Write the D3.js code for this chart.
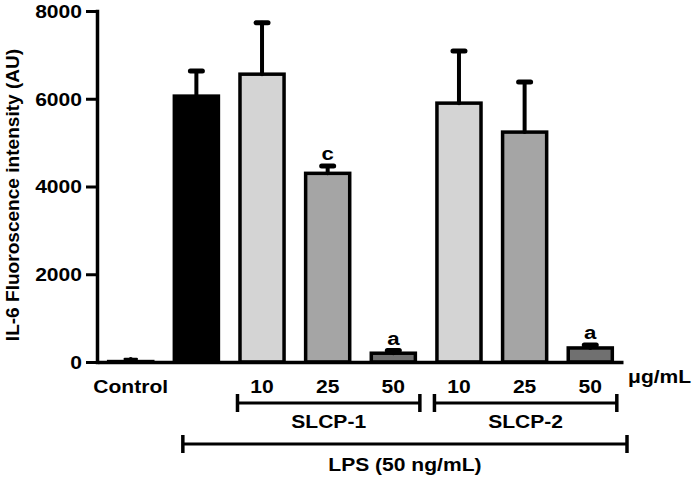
<!DOCTYPE html>
<html>
<head>
<meta charset="utf-8">
<script src="https://cdn.jsdelivr.net/npm/d3@7"></script>
<style>
  body { margin: 0; background: #fff; }
  text { font-family: "Liberation Sans", Arial, sans-serif; font-weight: bold; fill: #000; }
</style>
</head>
<body>
<script>
// chart data
const categories = ["Control", "LPS", "S1-10", "S1-25", "S1-50", "S2-10", "S2-25", "S2-50"];
const xLabels = ["Control", "", "10", "25", "50", "10", "25", "50"];
const means = [10, 6060, 6560, 4300, 200, 5900, 5240, 320];
const errors = [60, 570, 1170, 170, 60, 1190, 1140, 70];
const sigLetters = ["", "", "", "c", "a", "", "", "a"];
const yTicks = [0, 2000, 4000, 6000, 8000];
const groups = [
  { label: "SLCP-1", from: "S1-10", to: "S1-50" },
  { label: "SLCP-2", from: "S2-10", to: "S2-50" }
];
const lpsLabel = "LPS (50 ng/mL)";
const unitLabel = "\u03bcg/mL";
const yTitle = "IL-6 Fluoroscence intensity (AU)";

// style
const fills = ["#ffffff", "#000000", "#d4d4d4", "#a5a5a5", "#707070", "#d4d4d4", "#a5a5a5", "#707070"];
const stretch = 1.17;

const width = 693, height = 480;
const svg = d3.select("body").append("svg")
  .attr("width", width)
  .attr("height", height);

const x = d3.scaleBand()
  .domain(categories)
  .range([98, 623])
  .paddingInner(0.283)
  .paddingOuter(0.14);

const y = d3.scaleLinear().domain([0, 8000]).range([362, 11]);
const color = d3.scaleOrdinal(categories, fills);
const bw = x.bandwidth();

// stretched text helper (original figure font is wider than Arial)
function label(parent, tx, ty, str, size, anchor, rot) {
  return parent.append("text")
    .attr("transform", `translate(${tx},${ty})` + (rot ? ` rotate(${rot})` : "") + ` scale(${stretch},1)`)
    .attr("text-anchor", anchor || "middle")
    .style("font-size", size + "px")
    .text(str);
}

// bars
svg.append("g").selectAll("rect")
  .data(categories)
  .join("rect")
  .attr("x", d => x(d) + 1.5)
  .attr("width", bw - 3)
  .attr("y", (d, i) => y(means[i]))
  .attr("height", (d, i) => y(0) - y(means[i]))
  .attr("fill", d => color(d))
  .attr("stroke", "#000")
  .attr("stroke-width", 3.5);

// upper error bars
const err = svg.append("g").attr("stroke", "#000").attr("stroke-linecap", "round");
categories.forEach((c, i) => {
  const cx = x(c) + bw / 2;
  err.append("line")
    .attr("x1", cx).attr("x2", cx)
    .attr("y1", y(means[i])).attr("y2", y(means[i] + errors[i]))
    .attr("stroke-width", 4);
  err.append("line")
    .attr("x1", cx - 6).attr("x2", cx + 6)
    .attr("y1", y(means[i] + errors[i])).attr("y2", y(means[i] + errors[i]))
    .attr("stroke-width", i === 0 ? 2.5 : 5);
  if (sigLetters[i]) label(svg, cx, y(means[i] + errors[i]) - 6, sigLetters[i], 19);
});

// y axis
const yAxis = svg.append("g")
  .attr("transform", "translate(97,0)")
  .call(d3.axisLeft(y).tickValues(yTicks).tickFormat(d3.format("d")).tickSize(11).tickSizeOuter(0));
yAxis.select(".domain").attr("stroke-width", 3.5).attr("stroke-linecap", "square");
yAxis.selectAll(".tick line").attr("stroke-width", 3);
yAxis.selectAll(".tick text")
  .attr("x", 0).attr("dy", "0.36em")
  .attr("transform", `translate(-15,0) scale(${stretch},1)`)
  .style("font-size", "18px");

// x axis
const xAxis = svg.append("g")
  .attr("transform", "translate(0,362)")
  .call(d3.axisBottom(x).tickSize(0).tickSizeOuter(0).tickFormat((d, i) => xLabels[i]));
xAxis.select(".domain").attr("stroke-width", 3.5);
xAxis.selectAll(".tick text")
  .attr("y", 0).attr("dy", 0)
  .attr("transform", `translate(0,31) scale(${stretch},1)`)
  .style("font-size", "18px");

label(svg, 628, 383, unitLabel, 18, "start");

// group brackets
const br = svg.append("g").attr("stroke", "#000");
function bracket(x1, x2, yy, h) {
  br.append("line").attr("x1", x1).attr("x2", x2).attr("y1", yy).attr("y2", yy).attr("stroke-width", 3);
  [x1, x2].forEach(xx => br.append("line")
    .attr("x1", xx).attr("x2", xx).attr("y1", yy - h).attr("y2", yy + h).attr("stroke-width", 3.5));
}
groups.forEach(g => {
  const x1 = x(g.from) - 1, x2 = x(g.to) + bw + 3;
  bracket(x1, x2, 403, 9);
  label(svg, (x1 + x2) / 2, 428, g.label, 18);
});
const lx1 = x("LPS") + 10, lx2 = x.range()[1] + 4;
bracket(lx1, lx2, 444, 9);
label(svg, (lx1 + lx2) / 2, 471, lpsLabel, 18);

// y title
label(svg, 19, 195, yTitle, 18, "middle", -90)
  .attr("transform", `translate(19,195) rotate(-90) scale(1.06,1)`);
</script>
</body>
</html>
